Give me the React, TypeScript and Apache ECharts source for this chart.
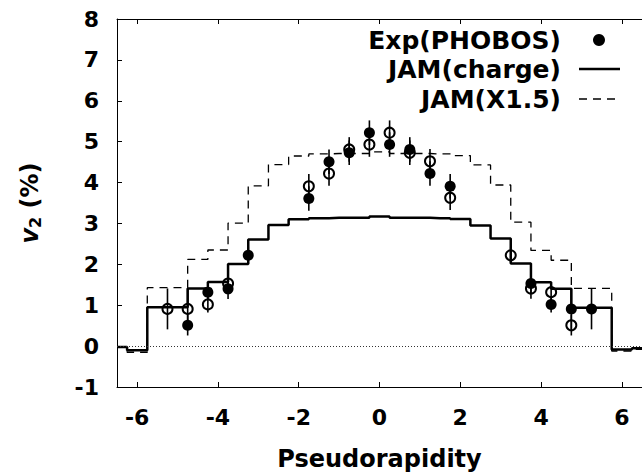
import React, { useEffect, useRef } from "react";
import * as echarts from "echarts";

// JAM step histograms (bin centres in pseudorapidity)
const etaBins = [-6.5, -6, -5.5, -5, -4.5, -4, -3.5, -3, -2.5, -2, -1.5, -1, -0.5, 0, 0.5, 1, 1.5, 2, 2.5, 3, 3.5, 4, 4.5, 5, 5.5, 6, 6.5];
const chargeV2 = [-0.02, -0.1, 0.95, 0.95, 1.41, 1.57, 2.01, 2.61, 2.96, 3.1, 3.13, 3.14, 3.14, 3.17, 3.14, 3.14, 3.13, 3.11, 2.95, 2.63, 2.02, 1.56, 1.4, 0.94, 0.94, -0.08, -0.05];
const scaledV2 = [-0.03, -0.15, 1.43, 1.43, 2.12, 2.35, 3.01, 3.92, 4.44, 4.65, 4.7, 4.71, 4.71, 4.75, 4.71, 4.71, 4.7, 4.66, 4.43, 3.94, 3.03, 2.34, 2.1, 1.41, 1.41, -0.12, -0.08];

// PHOBOS data (filled) and reflected points (open)
const expEta = [-4.75, -4.25, -3.75, -3.25, -1.75, -1.25, -0.75, -0.25, 0.25, 0.75, 1.25, 1.75, 3.75, 4.25, 4.75, 5.25];
const expV2 = [0.51, 1.32, 1.4, 2.22, 3.61, 4.51, 4.73, 5.22, 4.93, 4.81, 4.22, 3.91, 1.53, 1.02, 0.91, 0.91];
const expErr = [0.25, 0.2, 0.25, 0.2, 0.3, 0.3, 0.3, 0.3, 0.3, 0.3, 0.3, 0.3, 0.25, 0.2, 0.5, 0.5];
const reflEta = [-5.25, -4.75, -4.25, -3.75, -1.75, -1.25, -0.75, -0.25, 0.25, 0.75, 1.25, 1.75, 3.25, 3.75, 4.25, 4.75];
const reflV2 = [0.91, 0.91, 1.02, 1.53, 3.91, 4.22, 4.81, 4.93, 5.22, 4.73, 4.52, 3.63, 2.22, 1.41, 1.32, 0.51];
const reflErr = [0.5, 0.5, 0.2, 0.25, 0.3, 0.3, 0.3, 0.3, 0.3, 0.3, 0.3, 0.3, 0.2, 0.25, 0.2, 0.25];

const xTicks = [-6, -4, -2, 0, 2, 4, 6];
const legendLabels = ["Exp(PHOBOS)", "JAM(charge)", "JAM(X1.5)"];

const FONT = "'DejaVu Sans', sans-serif";

export default function App() {
  const ref = useRef<HTMLDivElement>(null);
  useEffect(() => {
    if (!ref.current) return;
    const chart = echarts.init(ref.current, null, { renderer: "svg" });
    const errRender = (params: any, api: any) => {
      const x = api.value(0);
      const y = api.value(1);
      const e = api.value(2);
      const p1 = api.coord([x, y + e]);
      const p2 = api.coord([x, y - e]);
      return {
        type: "line",
        shape: { x1: p1[0], y1: p1[1], x2: p2[0], y2: p2[1] },
        style: { stroke: "#000", lineWidth: 1.6 },
      };
    };
    const xAxisBase = {
      type: "value",
      min: -6.5,
      max: 6.5,
      splitLine: { show: false },
      axisLine: { show: true, onZero: false, lineStyle: { color: "#000", width: 1 } },
      axisTick: { show: true, inside: true, length: 5, customValues: xTicks, lineStyle: { color: "#000" } },
    };
    chart.setOption({
      animation: false,
      backgroundColor: "#fff",
      grid: { left: 117, top: 19, right: -13, bottom: 89 },
      xAxis: [
        {
          ...xAxisBase,
          position: "bottom",
          name: "Pseudorapidity",
          nameLocation: "middle",
          nameGap: 60,
          nameTextStyle: { fontFamily: FONT, fontWeight: "bold", fontSize: 24, color: "#000" },
          axisLabel: {
            customValues: xTicks,
            margin: 19,
            fontFamily: FONT,
            fontWeight: "bold",
            fontSize: 22,
            color: "#000",
          },
        },
        {
          ...xAxisBase,
          position: "top",
          axisLabel: { show: false },
        },
      ],
      yAxis: {
        type: "value",
        min: -1,
        max: 8,
        interval: 1,
        splitLine: { show: false },
        axisLine: { show: true, onZero: false, lineStyle: { color: "#000", width: 1 } },
        axisTick: { show: true, inside: true, length: 5, lineStyle: { color: "#000" } },
        axisLabel: { margin: 18, fontFamily: FONT, fontWeight: "bold", fontSize: 22, color: "#000" },
        name: "{v|v}{s|2} (%)",
        nameLocation: "middle",
        nameRotate: 90,
        nameGap: 74,
        nameTextStyle: {
          fontFamily: FONT,
          fontWeight: "bold",
          fontSize: 24,
          color: "#000",
          rich: {
            v: { fontFamily: FONT, fontWeight: "bold", fontStyle: "italic", fontSize: 24, color: "#000" },
            s: { fontFamily: FONT, fontWeight: "bold", fontSize: 16, color: "#000", padding: [10, 0, 0, 0] },
          },
        },
      },
      series: [
        {
          name: "JAM(charge)",
          type: "line",
          step: "middle",
          symbol: "none",
          data: etaBins.map((x, i) => [x, chargeV2[i]]),
          lineStyle: { color: "#000", width: 2.5 },
          z: 3,
          markLine: {
            silent: true,
            symbol: "none",
            label: { show: false },
            lineStyle: { color: "#333", width: 1, type: [1, 2] },
            data: [{ yAxis: 0 }],
          },
        },
        {
          name: "JAM(X1.5)",
          type: "line",
          step: "middle",
          symbol: "none",
          data: etaBins.map((x, i) => [x, scaledV2[i]]),
          lineStyle: { color: "#000", width: 1.3, type: [8, 6] },
          z: 3,
        },
        {
          type: "custom",
          renderItem: errRender,
          encode: { x: 0, y: 1 },
          data: expEta.map((x, i) => [x, expV2[i], expErr[i]]),
          z: 4,
        },
        {
          type: "custom",
          renderItem: errRender,
          encode: { x: 0, y: 1 },
          data: reflEta.map((x, i) => [x, reflV2[i], reflErr[i]]),
          z: 4,
        },
        {
          name: "Exp(PHOBOS)",
          type: "scatter",
          symbol: "circle",
          symbolSize: 11,
          data: expEta.map((x, i) => [x, expV2[i]]),
          itemStyle: { color: "#000", opacity: 1 },
          z: 5,
        },
        {
          name: "Exp(PHOBOS) reflected",
          type: "scatter",
          symbol: "circle",
          symbolSize: 10,
          data: reflEta.map((x, i) => [x, reflV2[i]]),
          itemStyle: { color: "rgba(0,0,0,0)", borderColor: "#000", borderWidth: 2, opacity: 1 },
          z: 5,
        },
      ],
      graphic: [
        ...legendLabels.map((t, i) => ({
          type: "text",
          x: 561,
          y: 40 + i * 29.5,
          style: {
            text: t,
            textAlign: "right",
            textVerticalAlign: "middle",
            fontFamily: FONT,
            fontWeight: "bold",
            fontSize: 25,
            fill: "#000",
          },
        })),
        { type: "circle", shape: { cx: 599, cy: 40, r: 6 }, style: { fill: "#000" } },
        { type: "line", shape: { x1: 579, y1: 69, x2: 620, y2: 69 }, style: { stroke: "#000", lineWidth: 2.5 } },
        {
          type: "line",
          shape: { x1: 579, y1: 99, x2: 620, y2: 99 },
          style: { stroke: "#000", lineWidth: 1.3, lineDash: [8, 6] },
        },
      ],
    });
    return () => chart.dispose();
  }, []);
  return (
    <div
      ref={ref}
      style={{ position: "absolute", left: 0, top: 0, width: 642, height: 476, overflow: "hidden" }}
    />
  );
}
